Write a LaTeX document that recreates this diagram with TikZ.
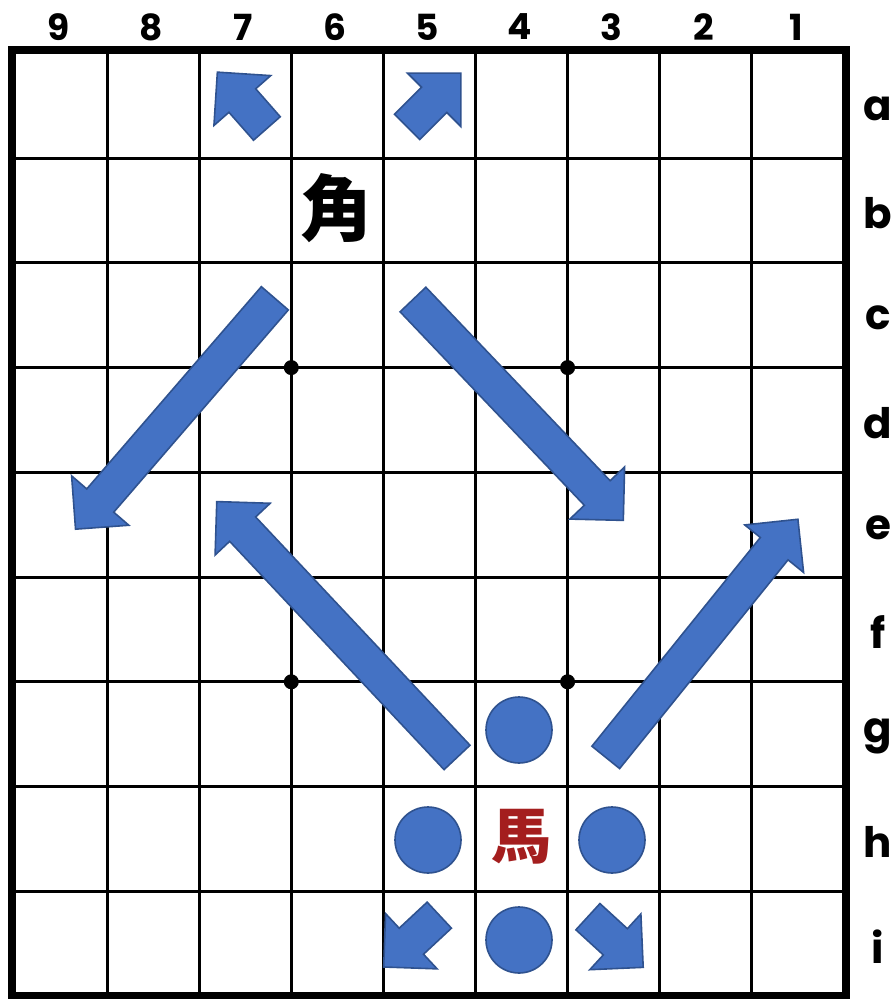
\documentclass[tikz,border=0pt]{standalone}
\usepackage{fontspec}
\setmainfont{Poppins}
\newfontfamily\cjk{Noto Sans CJK JP}
\usetikzlibrary{shapes.arrows}
\definecolor{blockblue}{HTML}{4472C4}
\definecolor{blockedge}{HTML}{2F528F}
\definecolor{umared}{HTML}{A41E1E}

\begin{document}
\begin{tikzpicture}[
  x=1pt, y=-1pt,
  every node/.style={inner sep=0pt},
  collbl/.style={font=\bfseries\fontsize{36}{36}\selectfont},
  rowlbl/.style={font=\bfseries\fontsize{42}{42}\selectfont},
  piece/.style={font=\cjk\bfseries\fontsize{72}{72}\selectfont},
  mv/.style={single arrow, draw=blockedge, fill=blockblue, line width=1.6pt,
    inner xsep=0pt, inner ysep=17pt, single arrow head extend=20pt},
  spot/.style={circle, draw=blockedge, fill=blockblue, line width=1.6pt, minimum size=66pt},
  hoshi/.style={circle, fill=black, minimum size=15pt}
]
\useasboundingbox (0,0) rectangle (895,999);

% board
\foreach \i in {1,...,8}
  \draw[line width=3pt] ({15+92.1*\i},53.3) -- ({15+92.1*\i},996);
\foreach \j in {1,...,8}
  \draw[line width=3pt] (15,{53.3+104.75*\j}) -- (844,{53.3+104.75*\j});
\draw[line width=8pt] (11.5,50) rectangle (845.5,996);

\node[hoshi] (hoshiA) at (291.3,367.6) {};
\node[hoshi] (hoshiB) at (567.6,367.6) {};
\node[hoshi] (hoshiC) at (291.3,681.8) {};
\node[hoshi] (hoshiD) at (567.6,681.8) {};

% coordinates
\foreach \n [count=\i from 0] in {9,...,1}
  \node[collbl] (col\n) at ({13+92.1*(\i+0.5)},27) {\n};
\foreach \r [count=\j from 0] in {a,...,i}
  \node[rowlbl] (row\r) at (878,{56+104.75*(\j+0.5)}) {\r};

% pieces
\node[piece] (kaku) at (336,208) {角};
\node[piece, text=umared, font=\cjk\bfseries\fontsize{60}{60}\selectfont] (uma) at (521,837) {馬};

% bishop moves
\node[mv, minimum height=305pt, rotate=229.2] (kakuSW) at (181,407) {};
\node[mv, minimum height=305pt, rotate=-46.4] (kakuSE) at (512,403.5) {};
\node[mv, minimum height=75pt, rotate=131.3] (kakuNW) at (248,107) {};
\node[mv, minimum height=76pt, rotate=45] (kakuNE) at (427.75,106.25) {};

% horse moves
\node[mv, minimum height=351pt, rotate=133.2] (umaNW) at (343,636) {};
\node[mv, minimum height=306pt, rotate=51.1] (umaNE) at (696.25,645.25) {};
\node[mv, minimum height=76pt, rotate=223] (umaSW) at (418,935) {};
\node[mv, minimum height=75pt, rotate=-42.5] (umaSE) at (609,936) {};

\node[spot] (g4) at (519,730) {};
\node[spot] (h5) at (428,840) {};
\node[spot] (h3) at (612,840) {};
\node[spot] (i4) at (519,940) {};

\end{tikzpicture}
\end{document}
